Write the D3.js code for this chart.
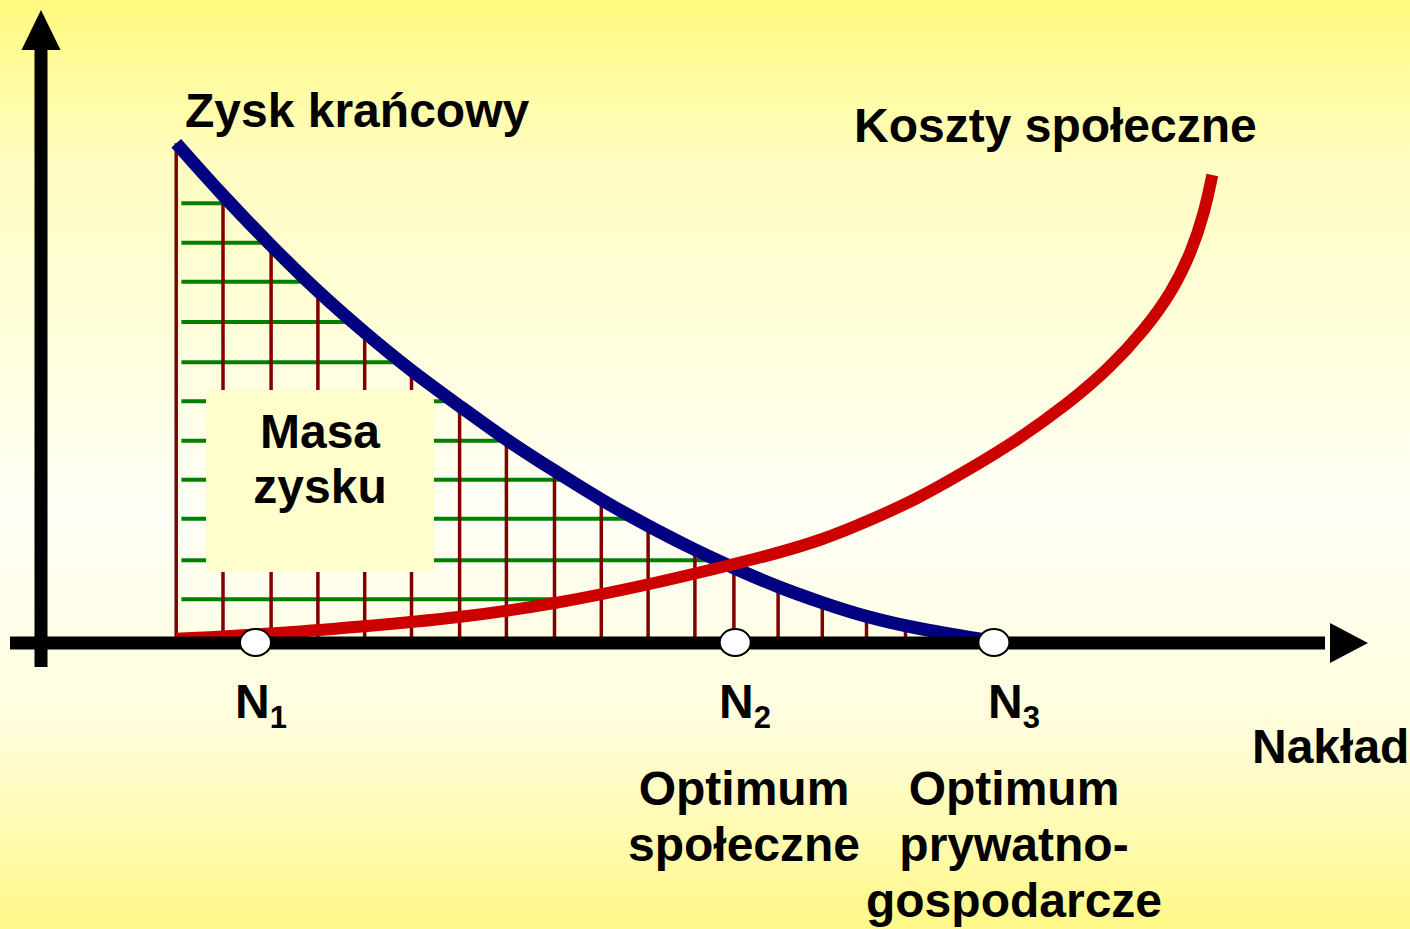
<!DOCTYPE html>
<html><head><meta charset="utf-8">
<script src="https://cdn.jsdelivr.net/npm/d3@7"></script>
<style>html,body{margin:0;padding:0;overflow:hidden;background:#fff}svg{display:block}</style>
</head><body>
<svg id="chart" width="1410" height="929"></svg>
<script>
// ---- data (x: input units 0..100, y: value units 0..100) ----
const blueX = [10.4, 14.0, 17.7, 21.3, 24.9, 28.5, 32.2, 35.8, 39.5, 43.1, 46.7, 50.3, 53.3, 56.7, 60.1, 63.5, 67.6, 71.8, 73.8];
const blueY = [83.3, 74.5, 66.2, 58.5, 51.7, 45.3, 39.5, 33.8, 28.7, 23.8, 19.5, 15.5, 12.5, 9.3, 6.7, 4.3, 2.3, 0.8, 0.2];
const redX  = [10.4, 17.6, 24.5, 32.2, 39.5, 46.7, 52.5, 56.7, 60.1, 63.5, 67.4, 71.2, 75.1, 78.9, 82.2, 84.9, 87.0, 88.5, 89.5, 90.1];
const redY  = [0.7, 1.5, 2.7, 4.2, 6.5, 9.7, 12.7, 15.0, 17.2, 20.2, 24.0, 28.7, 33.8, 39.7, 45.8, 52.2, 58.5, 65.2, 71.8, 78.0];
const hatchX = [10.4, 14.0, 17.7, 21.3, 24.9, 28.5, 32.2, 35.8, 39.5, 43.1, 46.7, 50.3, 53.3, 56.7, 60.1, 63.5, 66.5];
const hatchY = [73.3, 66.7, 60.2, 53.5, 46.8, 40.3, 33.7, 27.2, 20.7, 13.8, 7.3];
const hatchStartX = 10.8;
const markerX = [16.5, 53.4, 73.3];
const markerSubs = ["1", "2", "3"];
const curveLabels = ["Zysk krańcowy", "Koszty społeczne"];
const areaLabel = ["Masa", "zysku"];
const axisLabel = "Nakład";
const optimumLabels = [["Optimum", "społeczne"], ["Optimum", "prywatno-", "gospodarcze"]];

// ---- layout ----
const W = 1410, H = 929;
const x = d3.scaleLinear().domain([0, 100]).range([41, 1341]);
const y = d3.scaleLinear().domain([0, 100]).range([643, 43]);
const FONT = "'Liberation Sans', Arial, sans-serif";
const FS = 48;

const svg = d3.select("#chart");
const defs = svg.append("defs");
const grad = defs.append("linearGradient").attr("id", "bg").attr("x1", 0).attr("y1", 0).attr("x2", 0).attr("y2", 1);
[[0, "#fffa80"], [0.18, "#fffdc2"], [0.55, "#fffff6"], [0.78, "#fffddc"], [1, "#fff888"]].forEach(([o, c]) =>
  grad.append("stop").attr("offset", o).attr("stop-color", c));
svg.append("rect").attr("width", W).attr("height", H).attr("fill", "url(#bg)");

const line = d3.line().x(d => x(d[0])).y(d => y(d[1])).curve(d3.curveBasis);
const blueData = blueX.map((v, i) => [v, blueY[i]]);
const redData = redX.map((v, i) => [v, redY[i]]);

// hidden helper paths to sample curves
const helper = svg.append("g").attr("visibility", "hidden");
const bluePathNode = helper.append("path").attr("d", line(blueData)).node();
const redPathNode = helper.append("path").attr("d", line(redData)).node();
function sample(node) {
  const L = node.getTotalLength(), pts = [];
  for (let l = 0; l <= L; l += 0.5) { const p = node.getPointAtLength(l); pts.push([p.x, p.y]); }
  return pts;
}
const bluePts = sample(bluePathNode), redPts = sample(redPathNode);
function yAtX(pts, px) {
  for (let i = 1; i < pts.length; i++) {
    const a = pts[i - 1], b = pts[i];
    if ((a[0] - px) * (b[0] - px) <= 0 && a[0] !== b[0]) return a[1] + (b[1] - a[1]) * (px - a[0]) / (b[0] - a[0]);
  }
  return y(0);
}
function xAtY(pts, py) {
  for (let i = 1; i < pts.length; i++) {
    const a = pts[i - 1], b = pts[i];
    if ((a[1] - py) * (b[1] - py) <= 0 && a[1] !== b[1]) return a[0] + (b[0] - a[0]) * (py - a[1]) / (b[1] - a[1]);
  }
  return Infinity;
}

// green horizontal hatch
svg.append("g").selectAll("line").data(hatchY).join("line")
  .attr("x1", x(hatchStartX))
  .attr("x2", d => Math.min(xAtY(bluePts, y(d)), xAtY(redPts, y(d))))
  .attr("y1", d => y(d)).attr("y2", d => y(d))
  .attr("stroke", "#008000").attr("stroke-width", 4);

// dark red vertical hatch
svg.append("g").selectAll("line").data(hatchX).join("line")
  .attr("x1", d => x(d)).attr("x2", d => x(d))
  .attr("y1", y(0)).attr("y2", d => yAtX(bluePts, x(d)))
  .attr("stroke", "#800000").attr("stroke-width", 3.5);

// "Masa zysku" box
svg.append("rect").attr("x", 206).attr("y", 390).attr("width", 228).attr("height", 182).attr("fill", "#ffffcc");
svg.append("g").selectAll("text").data(areaLabel).join("text")
  .attr("x", 320).attr("y", (d, i) => 448 + i * 55)
  .attr("text-anchor", "middle").attr("font-family", FONT).attr("font-weight", "bold").attr("font-size", FS)
  .attr("fill", "#000").text(d => d);

// curves
svg.append("path").attr("d", line(blueData)).attr("fill", "none").attr("stroke", "#000080").attr("stroke-width", 13);
svg.append("path").attr("d", line(redData)).attr("fill", "none").attr("stroke", "#cc0000").attr("stroke-width", 12);

// axes
const ax = svg.append("g").attr("fill", "#000");
ax.append("rect").attr("x", 10).attr("y", y(0) - 6.5).attr("width", 1325 - 10).attr("height", 13);
ax.append("path").attr("d", `M1330,${y(0) - 20}L1368,${y(0)}L1330,${y(0) + 20}Z`);
ax.append("rect").attr("x", x(0) - 6.5).attr("y", 45).attr("width", 13).attr("height", 667 - 45);
ax.append("path").attr("d", `M${x(0) - 19.5},50L${x(0)},10L${x(0) + 19.5},50Z`);

// markers
svg.append("g").selectAll("ellipse").data(markerX).join("ellipse")
  .attr("cx", d => x(d)).attr("cy", y(0) - 0.5).attr("rx", 15.5).attr("ry", 13.5)
  .attr("fill", "#fff").attr("stroke", "#000").attr("stroke-width", 2);

// N labels
const nLeft = [235, 719, 988];
const nl = svg.append("g").selectAll("text").data(markerSubs).join("text")
  .attr("x", (d, i) => nLeft[i]).attr("y", 718)
  .attr("font-family", FONT).attr("font-weight", "bold").attr("font-size", FS).attr("fill", "#000");
nl.append("tspan").text("N");
nl.append("tspan").attr("font-size", 31).attr("dy", 10).text(d => d);

// curve labels
const txt = (s, px, py, anchor) => svg.append("text").attr("x", px).attr("y", py)
  .attr("text-anchor", anchor || "start").attr("font-family", FONT).attr("font-weight", "bold")
  .attr("font-size", FS).attr("fill", "#000").text(s);
txt(curveLabels[0], 185, 127);
txt(curveLabels[1], 854, 142);
txt(axisLabel, 1252, 763);

const optX = [744, 1014];
optimumLabels.forEach((lines, j) => lines.forEach((s, i) => txt(s, optX[j], 805 + i * 56, "middle")));
</script>
</body></html>
